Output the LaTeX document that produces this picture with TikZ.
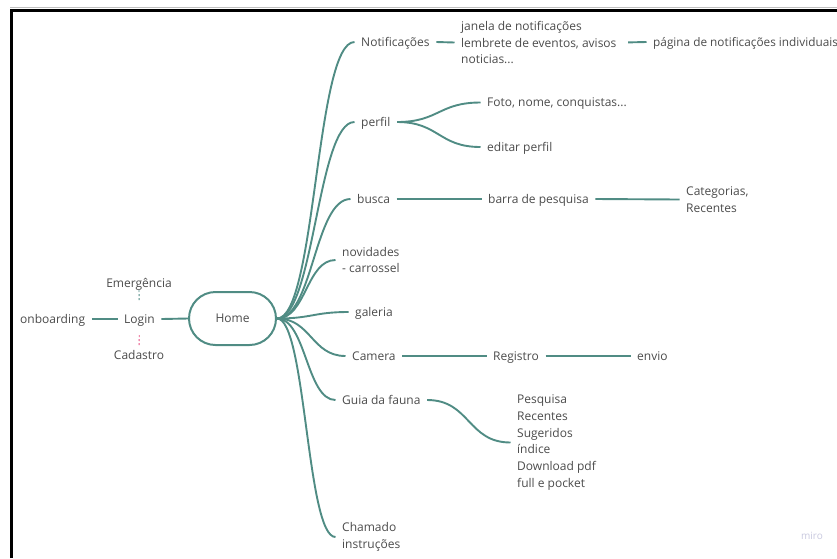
\documentclass[tikz,border=0pt]{standalone}
\usepackage{fontspec}
\setmainfont{Open Sans}
\definecolor{teal1}{RGB}{80,140,132}
\definecolor{txt}{RGB}{75,75,75}
\definecolor{pinkd}{RGB}{232,80,130}
\definecolor{mirogray}{RGB}{200,200,222}
\begin{document}
\begin{tikzpicture}[x=1pt,y=-1pt,
  mlbl/.style={anchor=west,xshift=-6.5pt,inner xsep=6.5pt,inner ysep=0pt,
    font=\fontsize{12}{16.8}\selectfont,text=txt,align=left},
  lbl/.style={mlbl,inner ysep=1pt,text height=10pt,text depth=2pt},
  cl/.style={anchor=center,inner xsep=6.5pt,inner ysep=1pt,text height=10pt,text depth=2pt,
    font=\fontsize{12}{16.8}\selectfont,text=txt},
  conn/.style={draw=teal1,line width=1.9pt},
  homebox/.style={draw=teal1,line width=2pt,rounded corners=26.5pt,minimum width=87pt,minimum height=53pt,
    font=\fontsize{12}{16.8}\selectfont,text=txt}]
\useasboundingbox (0,0) rectangle (837,558);
% frame
\draw[black!25,line width=1pt] (10,7.6) -- (837,7.6);
\draw[black,line width=2.6pt] (11.3,558) -- (11.3,10.2) -- (837,10.2);

% left part
\node[lbl] (onb) at (20,319) {onboarding};
\node[lbl] (login) at (124,319) {Login};
\node[cl] (emerg) at (139,283) {Emergência};
\node[cl] (cad) at (139,355) {Cadastro};
\node[homebox] (home) at (232.5,318.5) {Home};
\draw[conn] (onb.east) -- (login.west);
\draw[conn] (login.east) -- (home.west);
\draw[draw=teal1,line width=0.9pt,dash pattern=on 1.8pt off 2.2pt,shorten >=10pt] (emerg.south) -- (login.north);
\draw[draw=pinkd,line width=0.9pt,dash pattern=on 1.8pt off 2.2pt,shorten <=9pt,shorten >=1pt] (login.south) -- (cad.north);

% first level
\node[lbl] (notif) at (361,42) {Notificações};
\node[lbl] (perfil) at (361,122) {perfil};
\node[lbl] (busca) at (357,199) {busca};
\node[mlbl] (novid) at (342,260) {novidades\\- carrossel};
\node[lbl] (gal) at (355,312) {galeria};
\node[lbl] (cam) at (352,356) {Camera};
\node[lbl] (guia) at (342,400) {Guia da fauna};
\node[mlbl] (chamado) at (342,537) {Chamado\\instruções};

\coordinate (hc) at (home.east);
\draw[conn] (hc) .. controls +(39,0) and +(-39,0) .. (notif.west);
\draw[conn] (hc) .. controls +(37,0) and +(-37,0) .. (perfil.west);
\draw[conn] (hc) .. controls +(36,0) and +(-36,0) .. (busca.west);
\draw[conn] (hc) .. controls +(29,0) and +(-29,0) .. (novid.west);
\draw[conn] (hc) .. controls +(35,0) and +(-35,0) .. (gal.west);
\draw[conn] (hc) .. controls +(34,0) and +(-34,0) .. (cam.west);
\draw[conn] (hc) .. controls +(29,0) and +(-29,0) .. (guia.west);
\draw[conn] (hc) .. controls +(29,0) and +(-29,0) .. (chamado.west);

% notificacoes
\node[mlbl] (janela) at (461,42.5) {janela de notificações\\lembrete de eventos, avisos\\noticias...};
\node[lbl,font=\fontsize{11.8}{16.8}\selectfont] (pagina) at (653,42) {página de notificações individuais};
\draw[conn] (notif.east) -- (janela.west);
\draw[conn,shorten <=5pt] (janela.east) -- (pagina.west);

% perfil
\node[lbl] (foto) at (487,102.5) {Foto, nome, conquistas...};
\node[lbl] (editar) at (487,147) {editar perfil};
\draw[conn] (perfil.east) .. controls +(42,0) and +(-42,0) .. (foto.west);
\draw[conn] (perfil.east) .. controls +(42,0) and +(-42,0) .. (editar.west);

% busca
\node[lbl] (barra) at (488,199) {barra de pesquisa};
\node[mlbl] (categ) at (686,199.5) {Categorias,\\Recentes};
\draw[conn] (busca.east) -- (barra.west);
\draw[conn] (barra.east) -- (categ.west);

% camera
\node[lbl] (reg) at (493,356) {Registro};
\node[lbl] (envio) at (637,356) {envio};
\draw[conn] (cam.east) -- (reg.west);
\draw[conn] (reg.east) -- (envio.west);

% guia
\node[mlbl] (lista) at (517,442.5) {Pesquisa\\Recentes\\Sugeridos\\índice\\Download pdf\\full e pocket};
\draw[conn] (guia.east) .. controls +(43,0) and +(-43,0) .. (lista.west);

% watermark
\node[font=\fontsize{10}{12}\selectfont,text=mirogray,inner sep=0pt] (miro) at (812,536) {miro};
\end{tikzpicture}
\end{document}
